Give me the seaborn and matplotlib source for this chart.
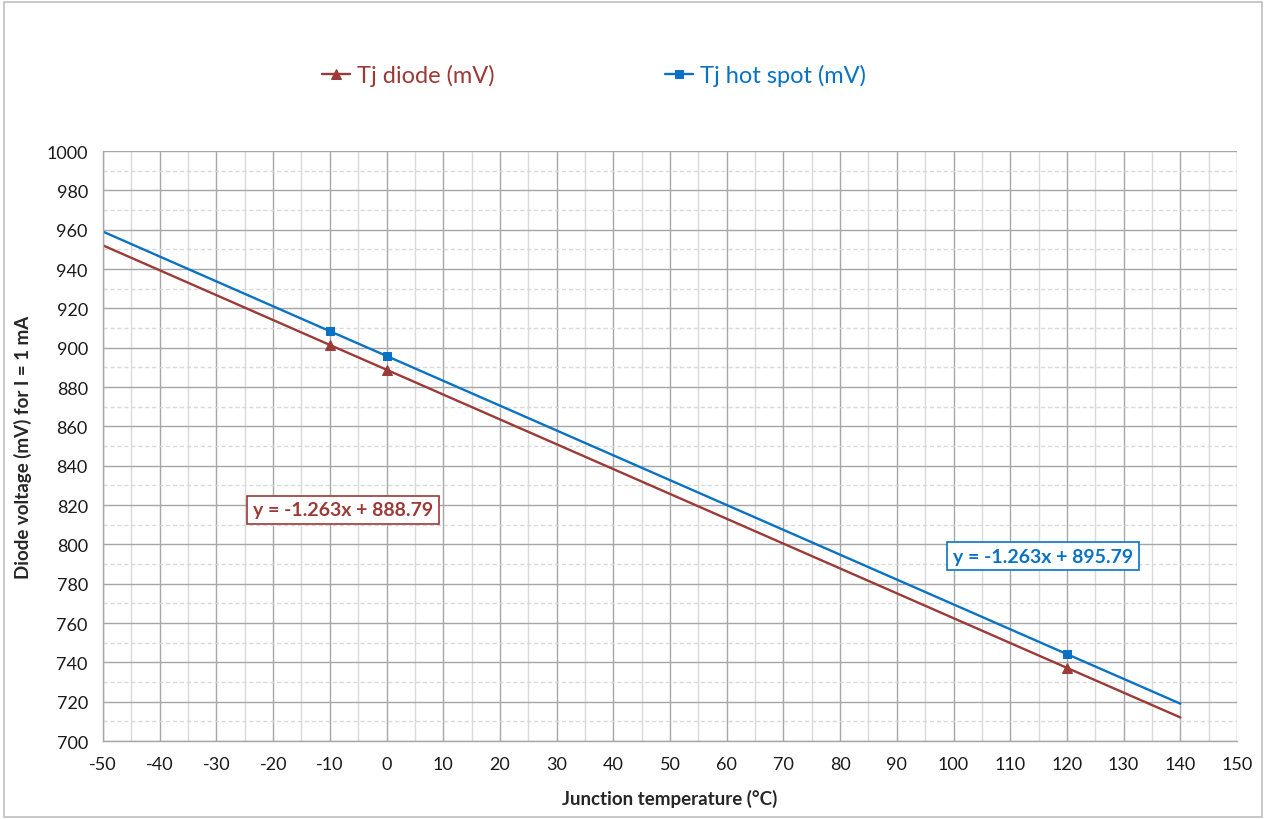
import matplotlib
matplotlib.use("Agg")
import matplotlib.pyplot as plt
from matplotlib.ticker import MultipleLocator
from matplotlib.patches import Rectangle
import seaborn as sns
import pandas as pd

# data
temps = [-50, -10, 0, 120, 140]
diode_mv = [952.0, 901.4, 888.8, 737.2, 712.0]
hotspot_mv = [959.0, 908.4, 895.8, 744.2, 719.0]
marked = [1, 2, 3]  # only the measured points carry a marker

diode_eq = "y = -1.263x + 888.79"
hotspot_eq = "y = -1.263x + 895.79"

RED = "#9B3A36"
BLUE = "#0A72C4"
MAJOR = "#A6A6A6"
MINOR = "#D9D9D9"

sns.set_style("white")
plt.rcParams["font.family"] = ["Lato", "DejaVu Sans"]
plt.rcParams["axes.unicode_minus"] = False

df = pd.DataFrame({"temp": temps, "diode": diode_mv, "hot": hotspot_mv})

fig = plt.figure(figsize=(12.66, 8.2), dpi=100)
ax = fig.add_axes([0.0814, 0.0951, 0.8957, 0.7195])

sns.lineplot(data=df, x="temp", y="diode", ax=ax, color=RED, lw=1.7,
             marker="^", markersize=7, markeredgecolor=RED, markevery=marked,
             label="Tj diode (mV)")
sns.lineplot(data=df, x="temp", y="hot", ax=ax, color=BLUE, lw=1.7,
             marker="s", markersize=6, markeredgecolor=BLUE, markevery=marked,
             label="Tj hot spot (mV)")

ax.set_xlim(-50, 150)
ax.set_ylim(700, 1000)
ax.xaxis.set_major_locator(MultipleLocator(10))
ax.xaxis.set_minor_locator(MultipleLocator(5))
ax.yaxis.set_major_locator(MultipleLocator(20))
ax.yaxis.set_minor_locator(MultipleLocator(10))

ax.grid(which="major", axis="both", color=MAJOR, lw=1.0, ls="-")
ax.grid(which="minor", axis="x", color=MINOR, lw=1.0, ls="-")
ax.grid(which="minor", axis="y", color=MINOR, lw=1.0, ls=(0, (3, 2)))
ax.set_axisbelow(True)

for side in ["top", "right"]:
    ax.spines[side].set_visible(False)
for side in ["left", "bottom"]:
    ax.spines[side].set_color(MAJOR)
    ax.spines[side].set_linewidth(1.0)

ax.tick_params(which="major", direction="out", length=5, width=1, color=MAJOR,
               labelsize=13, labelcolor="#1a1a1a", pad=6)
ax.tick_params(which="minor", length=0)

ax.set_xlabel("Junction temperature (°C)", fontsize=13.5, fontweight="bold", labelpad=12)
ax.set_ylabel("Diode voltage (mV) for I = 1 mA", fontsize=13.5, fontweight="bold", labelpad=10)

ax.text(-7.7, 817.5, diode_eq, color=RED, fontsize=14, fontweight="bold",
        ha="center", va="center",
        bbox=dict(boxstyle="square,pad=0.3", fc="white", ec=RED, lw=1.2))
ax.text(115.8, 794, hotspot_eq, color=BLUE, fontsize=14, fontweight="bold",
        ha="center", va="center",
        bbox=dict(boxstyle="square,pad=0.3", fc="white", ec=BLUE, lw=1.2))

ax.get_legend().remove()
handles, labels = ax.get_legend_handles_labels()
fig.legend(handles, labels, loc="center", bbox_to_anchor=(0.469, 0.907), ncol=2,
           frameon=False, fontsize=17, labelcolor="linecolor", handlelength=1.2,
           handletextpad=0.3, columnspacing=7.2)

fig.add_artist(Rectangle((0.003, 0.003), 0.994, 0.993, transform=fig.transFigure,
                         fill=False, ec="#BFBFBF", lw=1.2))

fig.savefig("out.png", dpi=100)
